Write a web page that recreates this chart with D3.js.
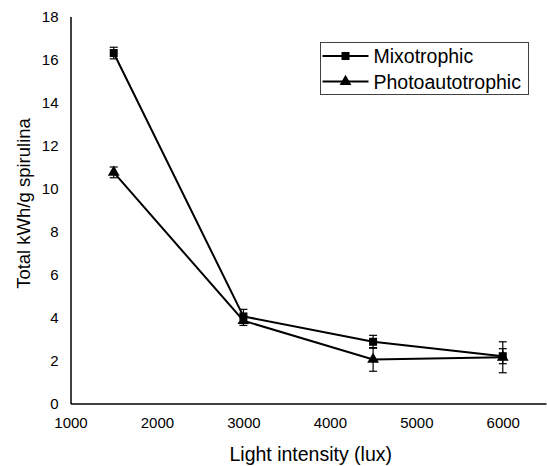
<!DOCTYPE html>
<html>
<head>
<meta charset="utf-8">
<script src="https://cdn.jsdelivr.net/npm/d3@7"></script>
<style>
  body { margin: 0; background: #fff; }
  svg { font-family: Arial, "Liberation Sans", sans-serif; }
</style>
</head>
<body>
<div id="chart"></div>
<script>
// light intensity (lux)
var lux = [1500, 3000, 4500, 6000];
// Total kWh/g spirulina, with error bars
var mixo = [16.3, 4.05, 2.87, 2.2];
var mixoErr = [0.27, 0.33, 0.3, 0.35];
var photo = [10.75, 3.85, 2.05, 2.15];
var photoErr = [0.25, 0.22, 0.55, 0.72];
var xTicks = [1000, 2000, 3000, 4000, 5000, 6000];
var yTicks = [0, 2, 4, 6, 8, 10, 12, 14, 16, 18];

var W = 547, H = 466;
var m = {top: 16.5, right: 1, bottom: 62.5, left: 70.5};

var svg = d3.select("#chart").append("svg")
    .attr("width", W).attr("height", H);

var x = d3.scaleLinear().domain([1000, 6500]).range([m.left, W - m.right]);
var y = d3.scaleLinear().domain([0, 18]).range([H - m.bottom, m.top]);

// axes (no tick marks, just the line + labels)
var xAxis = svg.append("g")
    .attr("transform", "translate(0," + y(0) + ")")
    .call(d3.axisBottom(x).tickValues(xTicks).tickSize(0).tickPadding(14).tickFormat(d3.format("d")));
var yAxis = svg.append("g")
    .attr("transform", "translate(" + x(1000) + ",0)")
    .call(d3.axisLeft(y).tickValues(yTicks).tickSize(0).tickPadding(12));
[xAxis, yAxis].forEach(function (g) {
  g.select(".domain").attr("stroke", "#000").attr("stroke-width", 1.5);
  g.selectAll("text").attr("font-size", 15).attr("fill", "#000")
    .attr("font-family", "Arial, 'Liberation Sans', sans-serif");
});

svg.append("text")
    .attr("x", (x(1000) + W) / 2 + 2).attr("y", 461)
    .attr("text-anchor", "middle").attr("font-size", 19.5)
    .text("Light intensity (lux)");
svg.append("text")
    .attr("transform", "translate(30,203.5) rotate(-90)")
    .attr("text-anchor", "middle").attr("font-size", 18.5)
    .text("Total kWh/g spirulina");

var series = [
  {name: "Mixotrophic", vals: mixo, err: mixoErr, sym: d3.symbolSquare, size: 64},
  {name: "Photoautotrophic", vals: photo, err: photoErr, sym: d3.symbolTriangle, size: 60}
];

var line = d3.line().x(function (d) { return x(d[0]); }).y(function (d) { return y(d[1]); });

series.forEach(function (s) {
  var pts = lux.map(function (l, i) { return [l, s.vals[i], s.err[i]]; });
  svg.append("path").datum(pts).attr("d", line)
    .attr("fill", "none").attr("stroke", "#000").attr("stroke-width", 2);

  var eb = svg.append("g").selectAll("g").data(pts).enter().append("g")
    .attr("stroke", "#000").attr("stroke-width", 1.2);
  eb.append("line")
    .attr("x1", function (d) { return x(d[0]); }).attr("x2", function (d) { return x(d[0]); })
    .attr("y1", function (d) { return y(d[1] + d[2]); }).attr("y2", function (d) { return y(d[1] - d[2]); });
  [1, -1].forEach(function (sg) {
    eb.append("line")
      .attr("x1", function (d) { return x(d[0]) - 4; }).attr("x2", function (d) { return x(d[0]) + 4; })
      .attr("y1", function (d) { return y(d[1] + sg * d[2]); }).attr("y2", function (d) { return y(d[1] + sg * d[2]); });
  });

  svg.append("g").selectAll("path").data(pts).enter().append("path")
    .attr("d", d3.symbol().type(s.sym).size(s.size))
    .attr("transform", function (d) { return "translate(" + x(d[0]) + "," + y(d[1]) + ")"; })
    .attr("fill", "#000");
});

// legend
var lg = svg.append("g").attr("transform", "translate(320.5,42.5)");
lg.append("rect").attr("width", 208).attr("height", 52)
  .attr("fill", "#fff").attr("stroke", "#404040").attr("stroke-width", 1);
series.forEach(function (s, i) {
  var cy = 13.5 + i * 25.5;
  lg.append("line").attr("x1", 2).attr("x2", 48).attr("y1", cy).attr("y2", cy)
    .attr("stroke", "#000").attr("stroke-width", 2);
  lg.append("path").attr("d", d3.symbol().type(s.sym).size(s.size))
    .attr("transform", "translate(25," + cy + ")").attr("fill", "#000");
  lg.append("text").attr("x", 53).attr("y", cy + 7).attr("font-size", 19.5)
    .text(s.name);
});
</script>
</body>
</html>
